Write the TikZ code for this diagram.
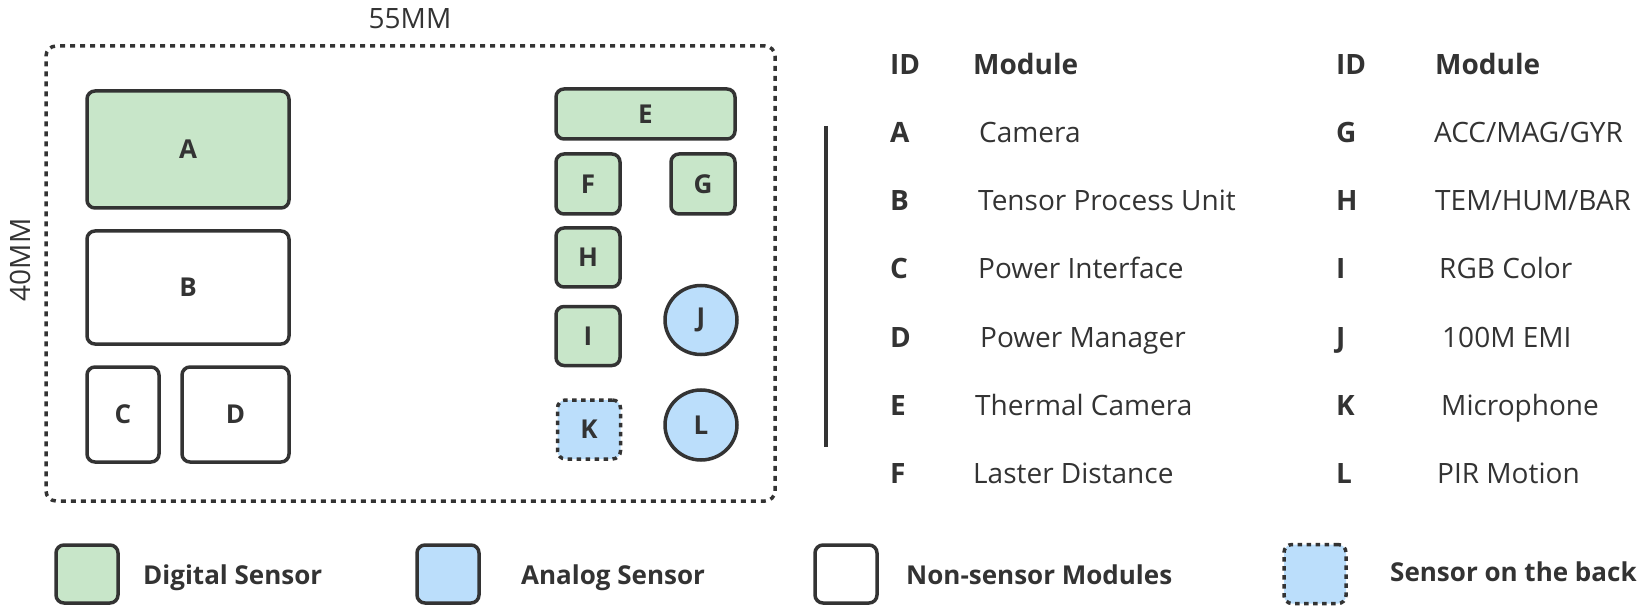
\documentclass[tikz,border=0pt]{standalone}
\usepackage{fontspec}
\setmainfont{Open Sans}
\usetikzlibrary{shapes.geometric}
\definecolor{dgreen}{HTML}{C8E6C9}
\definecolor{ablue}{HTML}{BBDEFB}
\definecolor{edge}{HTML}{333333}
\begin{document}
\begin{tikzpicture}[x=1pt,y=-1pt,
 mod/.style={draw=edge, line width=3.5pt, rounded corners=8pt, inner sep=0pt, text=edge, font=\fontsize{26}{30}\selectfont\bfseries},
 dig/.style={mod, fill=dgreen},
 ana/.style={mod, fill=ablue},
 non/.style={mod, fill=white},
 backbox/.style={ana, dash pattern=on 4.5pt off 4.5pt, line width=3.5pt},
 circ/.style={ellipse, draw=edge, line width=3.5pt, fill=ablue, inner sep=0pt, text=edge, font=\fontsize{26}{30}\selectfont\bfseries},
 txt/.style={anchor=base west, inner sep=0pt, text=edge, font=\fontsize{28}{34}\selectfont},
 btxt/.style={anchor=base west, inner sep=0pt, text=edge, font=\fontsize{28}{34}\selectfont\bfseries},
 ltxt/.style={anchor=base west, inner sep=0pt, text=edge, font=\fontsize{26}{30}\selectfont\bfseries},
]
\useasboundingbox (0,0) rectangle (1646,612);
% board outline
\node[draw=edge, line width=3.5pt, dash pattern=on 5pt off 5pt, rounded corners=10pt, minimum width=729pt, minimum height=455pt, inner sep=0pt] (board) at (410.5,273.5) {};
\node[anchor=base, inner sep=0pt, text=edge, font=\fontsize{28}{34}\selectfont] (w) at (410,29) {55MM};
\node[anchor=base, rotate=90, inner sep=0pt, text=edge, font=\fontsize{28}{34}\selectfont] (h) at (30,260) {40MM};
% modules
\node[dig, minimum width=202pt, minimum height=117pt] (A) at (188,149.5) {A};
\node[non, minimum width=202pt, minimum height=113pt] (B) at (188,287.5) {B};
\node[non, minimum width=72pt, minimum height=95pt] (C) at (123,414.5) {C};
\node[non, minimum width=107pt, minimum height=95pt] (D) at (235.5,414.5) {D};
\node[dig, minimum width=179pt, minimum height=50pt] (E) at (645.5,114) {E};
\node[dig, minimum width=64pt, minimum height=60pt] (F) at (588,184) {F};
\node[dig, minimum width=64pt, minimum height=60pt] (G) at (703,184) {G};
\node[dig, minimum width=64pt, minimum height=59pt] (H) at (588,257.5) {H};
\node[dig, minimum width=64pt, minimum height=59pt] (I) at (588,336) {I};
\node[circ, minimum width=72pt, minimum height=69pt] (J) at (701,320) {J};
\node[backbox, minimum width=63pt, minimum height=59pt] (K) at (589,429.5) {K};
\node[circ, minimum width=72pt, minimum height=70pt] (L) at (701,425) {L};
% separator
\coordinate (st) at (826,126);
\coordinate (sb) at (826,447);
\draw[edge, line width=4pt] (st) -- (sb);
% table
\node[btxt] (h1) at (890,75) {ID};
\node[btxt] (h2) at (973,75) {Module};
\node[btxt] (h3) at (1336,75) {ID};
\node[btxt] (h4) at (1435,75) {Module};
\node[btxt] (iA) at (890,143) {A};
\node[txt]  (mA) at (979,143) {Camera};
\node[btxt] (iB) at (890,211) {B};
\node[txt]  (mB) at (978,211) {Tensor Process Unit};
\node[btxt] (iC) at (890,279) {C};
\node[txt]  (mC) at (978,279) {Power Interface};
\node[btxt] (iD) at (890,347) {D};
\node[txt]  (mD) at (980,347) {Power Manager};
\node[btxt] (iE) at (890,415) {E};
\node[txt]  (mE) at (975,415) {Thermal Camera};
\node[btxt] (iF) at (890,483) {F};
\node[txt]  (mF) at (973,483) {Laster Distance};
\node[btxt] (iG) at (1336,143) {G};
\node[txt]  (mG) at (1434,143) {ACC/MAG/GYR};
\node[btxt] (iH) at (1336,211) {H};
\node[txt]  (mH) at (1435,211) {TEM/HUM/BAR};
\node[btxt] (iI) at (1336,279) {I};
\node[txt]  (mI) at (1439,279) {RGB Color};
\node[btxt] (iJ) at (1336,347) {J};
\node[txt]  (mJ) at (1442,347) {100M EMI};
\node[btxt] (iK) at (1336,415) {K};
\node[txt]  (mK) at (1441,415) {Microphone};
\node[btxt] (iL) at (1336,483) {L};
\node[txt]  (mL) at (1437,483) {PIR Motion};
% legend
\node[dig, minimum width=62pt, minimum height=58pt] (lg1) at (87,574) {};
\node[ltxt] (lt1) at (143,584) {Digital Sensor};
\node[ana, minimum width=62pt, minimum height=58pt] (lg2) at (448,574) {};
\node[ltxt] (lt2) at (521,584) {Analog Sensor};
\node[non, minimum width=62pt, minimum height=58pt] (lg3) at (846,574) {};
\node[ltxt] (lt3) at (906,584) {Non-sensor Modules};
\node[backbox, minimum width=62pt, minimum height=59pt] (lg4) at (1315,574) {};
\node[ltxt] (lt4) at (1390,581) {Sensor on the back};
\end{tikzpicture}
\end{document}
